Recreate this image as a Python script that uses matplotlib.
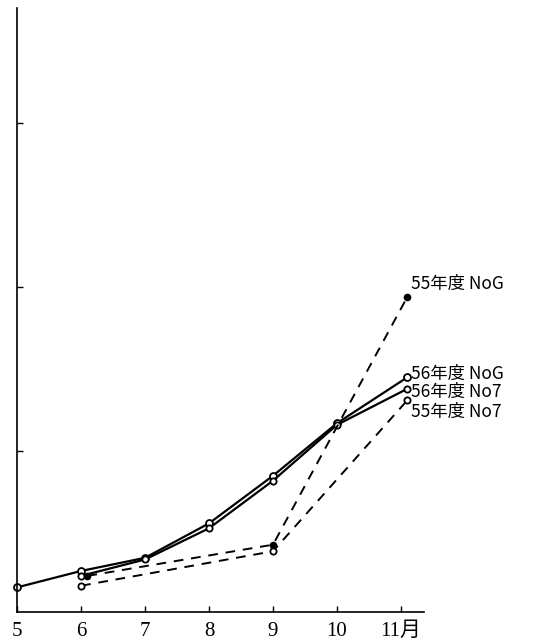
import matplotlib.pyplot as plt

# 月 (横軸)
months = [5, 6, 7, 8, 9, 10, 11]
month_labels = ['5', '6', '7', '8', '9', '10', '11月']

# 各系列 (縦軸は目盛り単位で読み取り)
x_56_nog = [5, 6, 7, 8, 9, 10, 11.1]
y_56_nog = [0.17, 0.27, 0.35, 0.56, 0.85, 1.17, 1.45]

x_56_no7 = [6, 7, 8, 9, 10, 11.1]
y_56_no7 = [0.24, 0.34, 0.53, 0.82, 1.16, 1.38]

x_55_nog = [6.1, 9, 11.1]
y_55_nog = [0.24, 0.43, 1.94]

x_55_no7 = [6, 9, 11.1]
y_55_no7 = [0.18, 0.39, 1.31]

labels = ['55年度 NoG', '56年度 NoG', '56年度 No7', '55年度 No7']

fig = plt.figure(figsize=(5.34, 6.44), dpi=100)
ax = fig.add_axes([0.032, 0.0497, 0.762, 0.938])

ax.plot(x_56_nog, y_56_nog, '-', color='black', lw=1.6, marker='o', ms=5,
        mfc='white', mec='black', mew=1.3, clip_on=False)
ax.plot(x_56_no7, y_56_no7, '-', color='black', lw=1.6, marker='o', ms=4.5,
        mfc='white', mec='black', mew=1.3, clip_on=False)
ax.plot(x_55_nog, y_55_nog, '--', color='black', lw=1.4, dashes=(5, 4),
        marker='o', ms=4.5, mfc='black', mec='black', clip_on=False)
ax.plot(x_55_no7, y_55_no7, '--', color='black', lw=1.4, dashes=(5, 4),
        marker='o', ms=4.5, mfc='white', mec='black', mew=1.3, clip_on=False)

# 系列名
cjk = ['Noto Sans CJK JP', 'DejaVu Sans']
ax.text(11.15, 2.02, labels[0], fontsize=12.5, family=cjk, va='center', ha='left')
ax.text(11.15, 1.47, labels[1], fontsize=12.5, family=cjk, va='center', ha='left')
ax.text(11.15, 1.36, labels[2], fontsize=12.5, family=cjk, va='center', ha='left')
ax.text(11.15, 1.24, labels[3], fontsize=12.5, family=cjk, va='center', ha='left')

ax.set_xlim(5, 11.36)
ax.set_ylim(0.02, 3.70)
ax.set_xticks(months)
ax.set_xticklabels(month_labels, family=['Liberation Serif', 'Noto Sans CJK JP'],
                   fontsize=15)
ax.set_yticks([1, 2, 3])
ax.set_yticklabels([])
ax.tick_params(direction='in', length=4, width=1)
ax.tick_params(axis='x', pad=7)
ax.spines['top'].set_visible(False)
ax.spines['right'].set_visible(False)
ax.spines['left'].set_linewidth(1.2)
ax.spines['bottom'].set_linewidth(1.2)

fig.savefig('out.png', dpi=100)
